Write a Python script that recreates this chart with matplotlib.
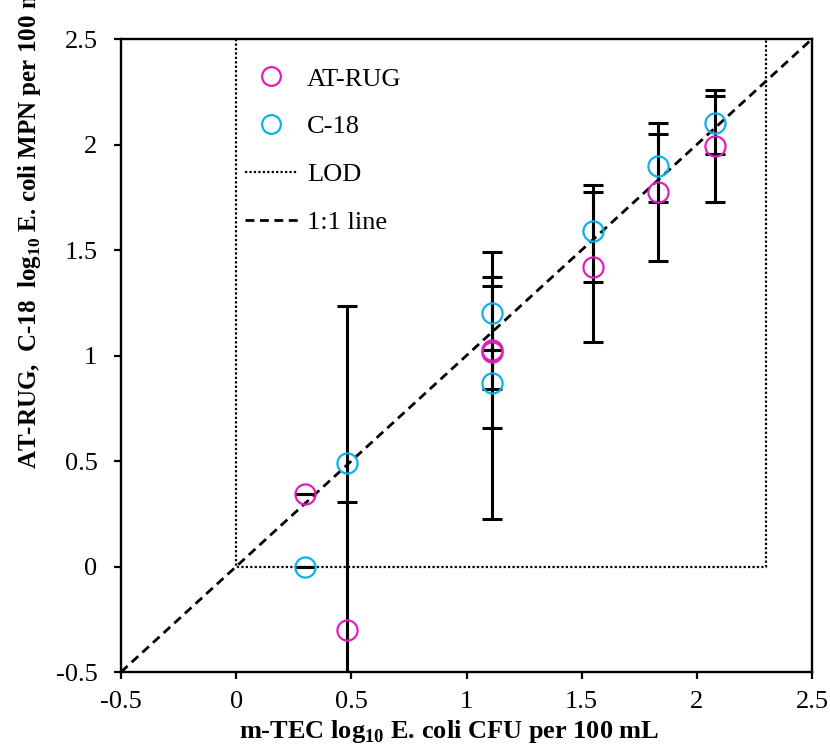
import matplotlib
matplotlib.use("Agg")
import matplotlib.pyplot as plt
from matplotlib.ticker import FormatStrFormatter
from matplotlib.lines import Line2D

plt.rcParams['font.family'] = ['Liberation Serif', 'DejaVu Serif']
plt.rcParams['axes.unicode_minus'] = False
plt.rcParams['mathtext.fontset'] = 'custom'
plt.rcParams['mathtext.rm'] = 'Liberation Serif:bold'
plt.rcParams['mathtext.bf'] = 'Liberation Serif:bold'

# AT-RUG results (log10 MPN / 100 mL) vs m-TEC (log10 CFU / 100 mL)
x_atrug = [0.30, 0.48, 1.11, 1.11, 1.55, 1.83, 2.08]
y_atrug = [0.344, -0.301, 1.015, 1.028, 1.421, 1.775, 1.994]
atrug_err_lo = [0.0, 0.605, 0.357, 0.0, 0.356, 0.329, 0.265]
atrug_err_hi = [0.0, 0.605, 0.357, 0.0, 0.356, 0.329, 0.265]

# C-18 results
x_c18 = [0.30, 0.48, 1.11, 1.11, 1.55, 1.83, 2.08]
y_c18 = [0.0, 0.489, 1.203, 0.868, 1.590, 1.900, 2.103]
c18_err_lo = [0.0, 1.2, 0.979, 0.027, 0.242, 0.174, 0.149]
c18_err_hi = [0.0, 0.745, 0.289, 0.461, 0.218, 0.148, 0.127]

# limit of detection box and 1:1 line
lod_x = [0, 0, 2.3, 2.3]
lod_y = [2.5, 0, 0, 2.5]
one_x = [-0.5, 2.5]
one_y = [-0.5, 2.5]

ticks = [-0.5, 0, 0.5, 1, 1.5, 2, 2.5]

magenta = '#e01ebe'
cyan = '#10b0ea'

fig = plt.figure(figsize=(8.3, 7.49), dpi=100)
ax = fig.add_axes([0.1458, 0.1028, 0.8325, 0.8451])

ax.plot(lod_x, lod_y, c='k', lw=1.6, dashes=(1, 1), label='LOD')
ax.plot(one_x, one_y, c='k', lw=2, dashes=(3.2, 2), label='1:1 line')

ax.errorbar(x_atrug, y_atrug, yerr=[atrug_err_lo, atrug_err_hi], fmt='none',
            ecolor='k', elinewidth=2.2, capsize=7, capthick=2.2, zorder=3)
ax.errorbar(x_c18, y_c18, yerr=[c18_err_lo, c18_err_hi], fmt='none',
            ecolor='k', elinewidth=2.2, capsize=7, capthick=2.2, zorder=3)

ax.plot(x_atrug, y_atrug, ls='none', marker='o', ms=14.5, mfc='none',
        mec=magenta, mew=1.6, zorder=4)
ax.plot(x_c18, y_c18, ls='none', marker='o', ms=14.5, mfc='none',
        mec=cyan, mew=1.6, zorder=4)

ax.set_xlim(-0.5, 2.5)
ax.set_ylim(-0.5, 2.5)
ax.set_xticks(ticks)
ax.set_yticks(ticks)
ax.xaxis.set_major_formatter(FormatStrFormatter('%g'))
ax.yaxis.set_major_formatter(FormatStrFormatter('%g'))
ax.tick_params(direction='out', length=5, width=1.6, labelsize=19)
ax.tick_params(axis='y', pad=12)
ax.tick_params(axis='x', pad=9)
for s in ax.spines.values():
    s.set_linewidth(1.7)

handles = [
    Line2D([], [], ls='none', marker='o', ms=13.5, mfc='none', mec=magenta, mew=1.6),
    Line2D([], [], ls='none', marker='o', ms=13.5, mfc='none', mec=cyan, mew=1.6),
    Line2D([], [], c='k', lw=1.6, dashes=(1, 1)),
    Line2D([], [], c='k', lw=2, dashes=(3.2, 2)),
]
ax.legend(handles, ['AT-RUG', 'C-18', 'LOD', '1:1 line'], loc='upper left',
          bbox_to_anchor=(0.145, 0.993), frameon=False, fontsize=19,
          handlelength=2.0, handletextpad=0.35, labelspacing=0.92)

fig.text(0.541, 0.024, r'm-TEC log$_{\mathbf{10}}$ E. coli CFU per 100 mL',
         ha='center', va='center', fontsize=19, fontweight='bold')
fig.text(0.036, 0.374, r'AT-RUG,  C-18  log$_{\mathbf{10}}$ E. coli MPN per 100 mL',
         rotation=90, rotation_mode='anchor', ha='left', va='center',
         fontsize=18, fontweight='bold')

fig.savefig('out.png', dpi=100)
